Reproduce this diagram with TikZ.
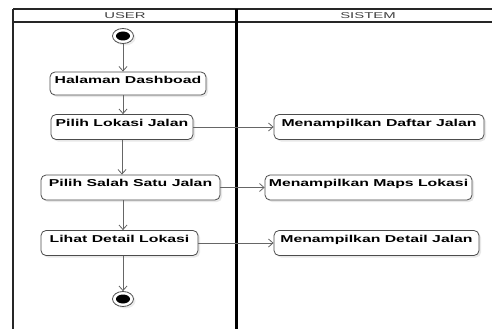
\documentclass[tikz,border=0pt]{standalone}
\usepackage{fontspec}
\usetikzlibrary{arrows.meta,shadows,shapes.geometric}
\newfontfamily\boxfont[FakeStretch=1.58]{Liberation Sans}
\newfontfamily\headfont[FakeStretch=1.75]{Liberation Sans}
\tikzset{
  act/.style={draw=black!70, line width=0.8pt, rounded corners=5pt, fill=white,
    drop shadow={shadow xshift=2pt, shadow yshift=-2pt, fill=black!18},
    font=\boxfont\bfseries\fontsize{10}{11}\selectfont,
    inner xsep=2pt, inner ysep=4pt, text height=7.5pt, text depth=9.5pt},
  flow/.style={draw=black!60, line width=0.8pt, -{Straight Barb[length=4.5pt,width=8pt]}},
  lane/.style={draw=black!85, line width=1.8pt},
  head/.style={font=\headfont\fontsize{8.5}{9}\selectfont, text=black!75},
  term/.style={ellipse, draw=black!70, line width=0.8pt, fill=white, minimum width=21pt, minimum height=15pt, inner sep=0pt,
    drop shadow={shadow xshift=2pt, shadow yshift=-2pt, fill=black!15}}
}
\begin{document}
\begin{tikzpicture}[x=1pt,y=-1pt]
\useasboundingbox (0,0) rectangle (492,329);
% swimlanes
\draw[lane] (13,9) -- (492,9);
\draw[lane] (13,22) -- (492,22);
\draw[lane] (13,9) -- (13,329);
\draw[draw=black, line width=2.8pt] (236.5,9) -- (236.5,329);
\node[head] (huser) at (125,16) {USER};
\node[head] (hsis) at (368,16) {SISTEM};
% start / end
\node[term] (start) at (123,36) {};
\fill[black] (start.center) ellipse (7pt and 4.5pt);
\node[term] (end) at (123,299) {};
\fill[black] (end.center) ellipse (7pt and 4.5pt);
% activities
\node[act, minimum width=156pt, text depth=7.5pt] (dash) at (128,83.5) {Halaman Dashboad};
\node[act, minimum width=142pt] (lok) at (122,127) {Pilih Lokasi Jalan};
\node[act, minimum width=179pt] (salah) at (130.5,187.5) {Pilih Salah Satu Jalan};
\node[act, minimum width=157pt] (lihat) at (119.5,243) {Lihat Detail Lokasi};
\node[act, minimum width=210pt] (daftar) at (379,127) {Menampilkan Daftar Jalan};
\node[act, minimum width=207pt] (maps) at (368.5,187.5) {Menampilkan Maps Lokasi};
\node[act, minimum width=205pt] (detail) at (376.5,243) {Menampilkan Detail Jalan};
% flows
\draw[flow] (start.south) -- (start.south |- dash.north);
\draw[flow] (dash.south -| start.south) -- (lok.north -| start.south);
\draw[flow] (lok.south) -- (lok.south |- salah.north);
\draw[flow] (salah.south -| start.south) -- (lihat.north -| start.south);
\draw[flow] (lihat.south -| start.south) -- (end.north);
\draw[flow] (lok.east) -- (daftar.west);
\draw[flow] (salah.east) -- (maps.west);
\draw[flow] (lihat.east) -- (detail.west);
\end{tikzpicture}
\end{document}
